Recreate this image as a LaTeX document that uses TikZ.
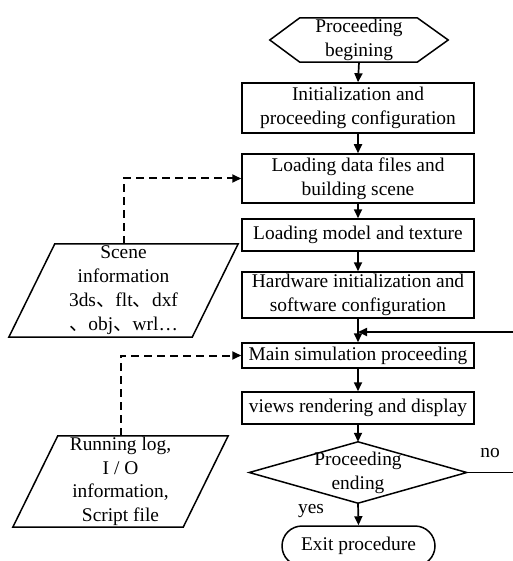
\documentclass[tikz,border=0pt]{standalone}
\usepackage{fontspec}
\setmainfont{Liberation Serif}
\newfontfamily\cjk{Noto Sans CJK SC}
\usetikzlibrary{arrows.meta,shapes.misc}
\newcommand{\dun}{{\cjk 、}}
\begin{document}
\begin{tikzpicture}[x=1pt,y=-1pt,
  every node/.style={font=\fontsize{19.4}{24}\selectfont, align=center, inner sep=0pt},
  box/.style={draw, line width=1.5pt, minimum width=232pt},
  conn/.style={line width=1.7pt, -{Triangle[length=9pt,width=8pt]}},
  dconn/.style={conn, line width=2pt, dash pattern=on 8pt off 5pt},
  border/.style={line width=1.5pt, line join=miter}]
\useasboundingbox (0,0) rectangle (512,561);

% start hexagon
\node (start) [minimum width=178pt, minimum height=44pt] at (359,40) {Proceeding\\begining};
\draw[border] (start.west) -- ([xshift=30pt]start.north west) -- ([xshift=-31pt]start.north east)
  -- (start.east) -- ([xshift=-31pt]start.south east) -- ([xshift=30pt]start.south west) -- cycle;

% process boxes
\node (init) [box, minimum height=50pt] at (358,108) {Initialization and\\proceeding configuration};
\node (load) [box, minimum height=49pt] at (358,178.5) {Loading data files and\\building scene};
\node (model) [box, minimum height=32pt] at (358,235) {Loading model and texture};
\node (hw) [box, minimum height=46pt] at (358,295) {Hardware initialization and\\software configuration};
\node (main) [box, minimum height=25pt] at (358,355.5) {Main simulation proceeding};
\node (view) [box, minimum height=32pt] at (358,408) {views rendering and display};

% decision diamond
\node (dec) [minimum width=217pt, minimum height=61pt] at (358,472.5) {Proceeding\\ending};
\draw[border] (dec.west) -- (dec.north) -- (dec.east) -- (dec.south) -- cycle;

% exit terminal
\node (exit) [draw, line width=1.5pt, rounded corners=20pt, minimum width=153pt, minimum height=40pt] at (358.5,546) {Exit procedure};

% data parallelograms
\node (scene) [minimum width=229pt, minimum height=93pt] at (123.5,290.5)
  {Scene\\information\\3ds\dun flt\dun dxf\\\dun obj\dun wrl…};
\draw[border] ([xshift=46pt]scene.north west) -- (scene.north east)
  -- ([xshift=-46pt]scene.south east) -- (scene.south west) -- cycle;

\node (log) [minimum width=215pt, minimum height=91pt, font=\fontsize{19.4}{23.5}\selectfont] at (120.5,481.5)
  {Running log,\\I / O\\information,\\Script file};
\draw[border] ([xshift=45pt]log.north west) -- (log.north east)
  -- ([xshift=-45pt]log.south east) -- (log.south west) -- cycle;

% connectors
\draw[conn] (start.south) -- (init.north);
\draw[conn] (init.south) -- (load.north);
\draw[conn] (load.south) -- (model.north);
\draw[conn] (model.south) -- (hw.north);
\draw[conn] (hw.south) -- (main.north);
\draw[conn] (main.south) -- (view.north);
\draw[conn] (view.south) -- (dec.north);
\draw[conn] (dec.south) -- (exit.north);

\coordinate (merge) at (358,332);
\coordinate (rc) at (514,0);
\draw[conn] (dec.east) -- (dec.east -| rc) |- (merge);

\draw[dconn] (scene.north) |- (load.west);
\draw[dconn] (log.north) |- (main.west);

% labels
\node (no) at (490,453) {no};
\node (yes) at (311,511) {yes};
\end{tikzpicture}
\end{document}
